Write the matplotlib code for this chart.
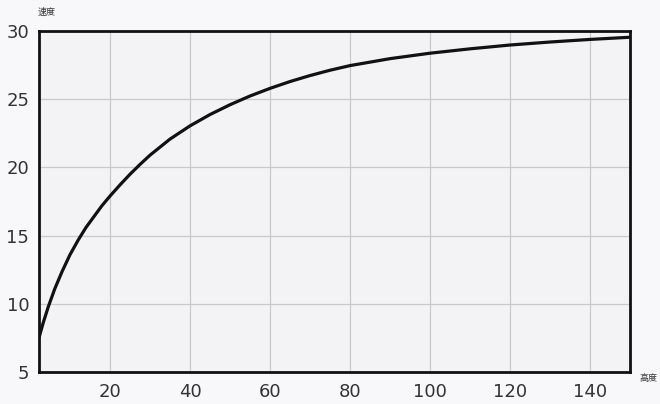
import matplotlib
matplotlib.use("Agg")
import matplotlib.pyplot as plt

# values
height = [2.3, 3.3, 4.6, 6.2, 8.0, 10.0, 12.1, 14.0, 16.25, 18.0, 20.0, 22.5, 25.0,
          27.5, 30.0, 35.0, 40.0, 45.0, 50.0, 55.0, 60.0, 65.0, 70.0, 75.0, 80.0,
          90.0, 100.0, 110.0, 120.0, 130.0, 140.0, 150.0]
speed = [7.55, 8.6, 9.8, 11.1, 12.35, 13.6, 14.7, 15.6, 16.5, 17.2, 17.9, 18.72, 19.5,
         20.22, 20.9, 22.08, 23.05, 23.88, 24.6, 25.24, 25.8, 26.3, 26.74, 27.13, 27.47,
         27.98, 28.38, 28.7, 28.98, 29.2, 29.39, 29.55]

x_ticks = [20, 40, 60, 80, 100, 120, 140]
y_ticks = [5, 10, 15, 20, 25, 30]

plt.rcParams["font.family"] = ["DejaVu Sans", "Noto Sans CJK SC"]

fig = plt.figure(figsize=(6.6, 4.04), dpi=100, facecolor="#f8f8fa")
ax = fig.add_axes([0.059, 0.079, 0.8955, 0.844])
ax.set_facecolor("#f3f3f5")

ax.plot(height, speed, color="#111111", linewidth=2.3, solid_joinstyle="round")

ax.set_xlim(2.25, 150)
ax.set_ylim(5, 30)
ax.set_xticks(x_ticks)
ax.set_yticks(y_ticks)
ax.grid(True, color="#c9c9cc", linewidth=0.9)
ax.set_axisbelow(True)
ax.tick_params(length=0, labelsize=13, labelcolor="#333333")
ax.tick_params(axis="x", pad=8)
ax.tick_params(axis="y", pad=7)
for s in ax.spines.values():
    s.set_linewidth(2.0)
    s.set_color("#111111")

fig.text(47 / 660, 1 - 12 / 404, "速度", fontsize=6.5, color="#333333",
         ha="center", va="center", family=["Noto Sans CJK SC", "DejaVu Sans"])
fig.text(648 / 660, 1 - 379 / 404, "高度", fontsize=6.5, color="#333333",
         ha="center", va="center", family=["Noto Sans CJK SC", "DejaVu Sans"])

fig.savefig("out.png", dpi=100, facecolor=fig.get_facecolor())
